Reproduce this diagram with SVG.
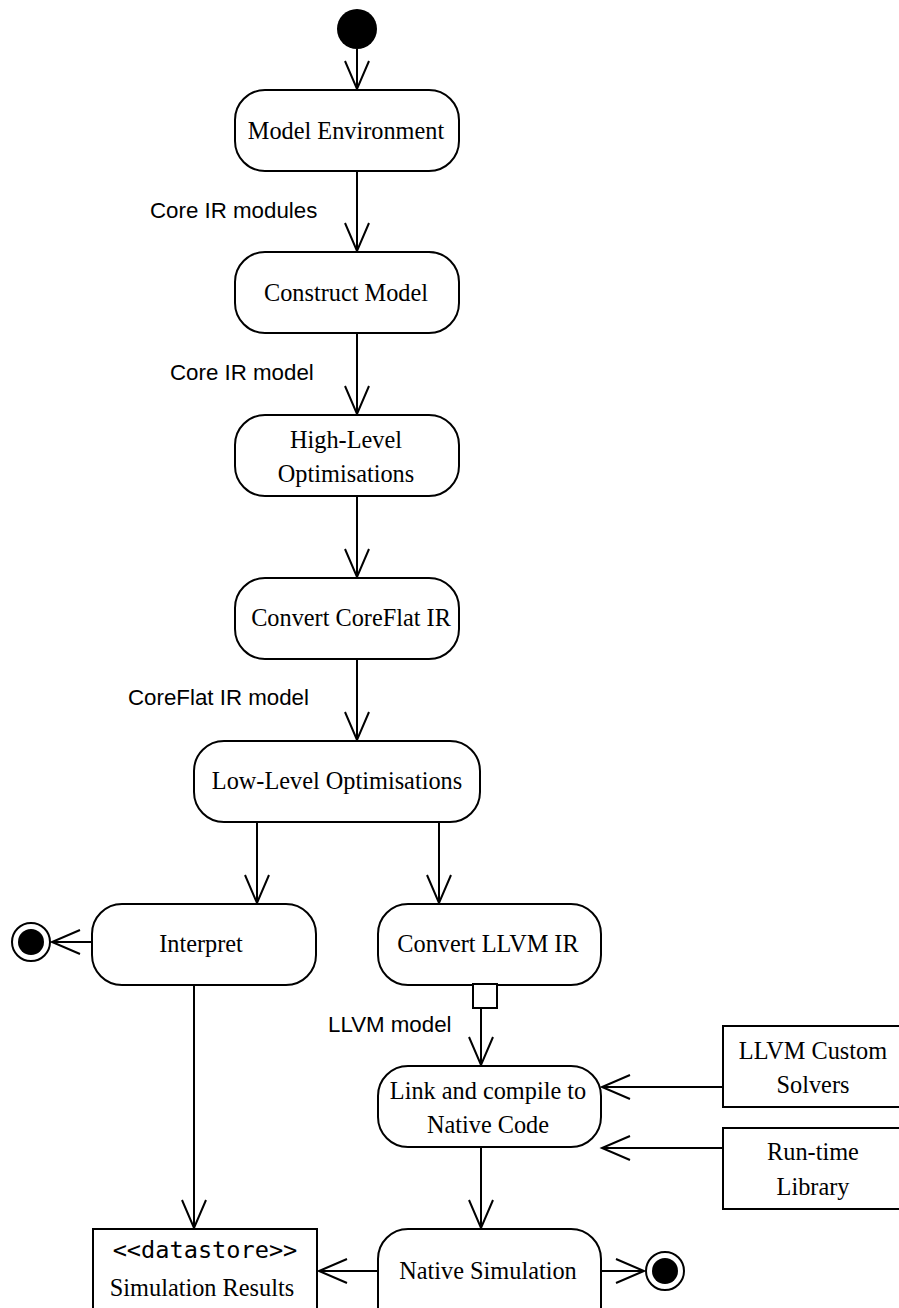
<svg xmlns="http://www.w3.org/2000/svg" width="899" height="1308" viewBox="0 0 899 1308">
  <style>
    .act { fill: #fff; stroke: #000; stroke-width: 2; }
    .box { fill: #fff; stroke: #000; stroke-width: 2; }
    .lbl { font-family: "Liberation Serif", "Times New Roman", serif; font-size: 24.3px; fill: #000; text-anchor: middle; }
    .elbl { font-family: "Liberation Sans", Arial, sans-serif; font-size: 22.3px; fill: #000; }
    .mono { font-family: "DejaVu Sans Mono", "Liberation Mono", monospace; font-size: 23.6px; fill: #000; text-anchor: middle; }
    .edge { fill: none; stroke: #000; stroke-width: 2; }
  </style>
  <defs>
    <marker id="open" markerUnits="userSpaceOnUse" markerWidth="34" markerHeight="30" refX="29" refY="13" orient="auto">
      <path d="M1,1 L29,13 L1,25" fill="none" stroke="#000" stroke-width="2"/>
    </marker>
  </defs>

  <!-- connectors -->
  <g id="connectors" class="edge">
    <line x1="357" y1="49" x2="357" y2="89" marker-end="url(#open)"/>
    <line x1="357" y1="171" x2="357" y2="251" marker-end="url(#open)"/>
    <line x1="357" y1="333" x2="357" y2="414" marker-end="url(#open)"/>
    <line x1="357" y1="496" x2="357" y2="577" marker-end="url(#open)"/>
    <line x1="357" y1="659" x2="357" y2="740" marker-end="url(#open)"/>
    <line x1="257" y1="822" x2="257" y2="903" marker-end="url(#open)"/>
    <line x1="439" y1="822" x2="439" y2="903" marker-end="url(#open)"/>
    <line x1="92" y1="942" x2="52" y2="942" marker-end="url(#open)"/>
    <line x1="481" y1="1008" x2="481" y2="1065" marker-end="url(#open)"/>
    <line x1="723" y1="1087" x2="602" y2="1087" marker-end="url(#open)"/>
    <line x1="723" y1="1148" x2="602" y2="1148" marker-end="url(#open)"/>
    <line x1="481" y1="1147" x2="481" y2="1228" marker-end="url(#open)"/>
    <line x1="194" y1="985" x2="194" y2="1228" marker-end="url(#open)"/>
    <line x1="378" y1="1271" x2="319" y2="1271" marker-end="url(#open)"/>
    <line x1="601" y1="1271" x2="644" y2="1271" marker-end="url(#open)"/>
  </g>

  <!-- edge labels -->
  <g id="edge-labels">
    <text class="elbl" x="150" y="218">Core IR modules</text>
    <text class="elbl" x="170" y="380">Core IR model</text>
    <text class="elbl" x="128" y="705">CoreFlat IR model</text>
    <text class="elbl" x="328" y="1032">LLVM model</text>
  </g>

  <g id="start">
    <circle cx="357" cy="29" r="20" fill="#000"/>
  </g>

  <g id="model-environment">
    <rect class="act" x="235" y="90" width="224" height="81" rx="30"/>
    <text class="lbl" x="346" y="139">Model Environment</text>
  </g>

  <g id="construct-model">
    <rect class="act" x="235" y="252" width="224" height="81" rx="30"/>
    <text class="lbl" x="346" y="301">Construct Model</text>
  </g>

  <g id="high-level-opt">
    <rect class="act" x="235" y="415" width="224" height="81" rx="30"/>
    <text class="lbl" x="346" y="448">High-Level</text>
    <text class="lbl" x="346" y="482">Optimisations</text>
  </g>

  <g id="convert-coreflat">
    <rect class="act" x="235" y="578" width="224" height="81" rx="30"/>
    <text class="lbl" x="351" y="626">Convert CoreFlat IR</text>
  </g>

  <g id="low-level-opt">
    <rect class="act" x="194" y="741" width="286" height="81" rx="30"/>
    <text class="lbl" x="337" y="789">Low-Level Optimisations</text>
  </g>

  <g id="interpret">
    <rect class="act" x="92" y="904" width="224" height="81" rx="30"/>
    <text class="lbl" x="201" y="952">Interpret</text>
  </g>

  <g id="final-interpret">
    <circle cx="31" cy="942" r="19" fill="#fff" stroke="#000" stroke-width="2"/>
    <circle cx="31" cy="942" r="13" fill="#000"/>
  </g>

  <g id="convert-llvm">
    <rect class="act" x="378" y="904" width="223" height="81" rx="30"/>
    <text class="lbl" x="488" y="952">Convert LLVM IR</text>
  </g>

  <g id="llvm-pin">
    <rect class="box" x="473" y="984" width="24" height="24"/>
  </g>

  <g id="link-compile">
    <rect class="act" x="378" y="1066" width="223" height="81" rx="30"/>
    <text class="lbl" x="488" y="1099">Link and compile to</text>
    <text class="lbl" x="488" y="1133">Native Code</text>
  </g>

  <g id="custom-solvers">
    <rect class="box" x="723" y="1026" width="185" height="81"/>
    <text class="lbl" x="813" y="1059">LLVM Custom</text>
    <text class="lbl" x="813" y="1093">Solvers</text>
  </g>

  <g id="runtime-library">
    <rect class="box" x="723" y="1128" width="185" height="81"/>
    <text class="lbl" x="813" y="1160">Run-time</text>
    <text class="lbl" x="813" y="1195">Library</text>
  </g>

  <g id="native-simulation">
    <rect class="act" x="378" y="1229" width="223" height="110" rx="30"/>
    <text class="lbl" x="488" y="1279">Native Simulation</text>
  </g>

  <g id="final-native">
    <circle cx="665" cy="1271" r="19" fill="#fff" stroke="#000" stroke-width="2"/>
    <circle cx="665" cy="1271" r="13" fill="#000"/>
  </g>

  <g id="simulation-results">
    <rect class="box" x="93" y="1229" width="224" height="110"/>
    <text class="mono" x="205" y="1258">&lt;&lt;datastore&gt;&gt;</text>
    <text class="lbl" x="202" y="1296">Simulation Results</text>
  </g>
</svg>
